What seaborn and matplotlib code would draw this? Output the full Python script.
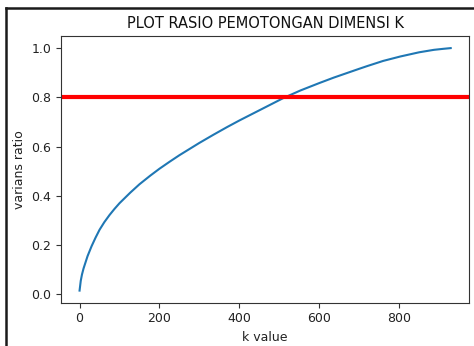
import matplotlib
matplotlib.use("Agg")
import matplotlib.pyplot as plt
from matplotlib.lines import Line2D
import seaborn as sns
import pandas as pd

# Cumulative explained-variance ratio against number of kept components k
k_values = [0, 3, 6, 10, 15, 20, 30, 40, 50, 62, 75, 87, 100, 127, 150, 177, 200,
            225, 250, 285, 300, 335, 369, 400, 452, 510, 553, 600, 636, 700,
            720, 760, 803, 850, 887, 910, 929]
varians_ratio = [0.015, 0.055, 0.08, 0.105, 0.13, 0.155, 0.195, 0.23, 0.262,
                 0.293, 0.322, 0.346, 0.37, 0.413, 0.447, 0.482, 0.51, 0.538,
                 0.565, 0.6, 0.615, 0.648, 0.679, 0.706, 0.749, 0.797, 0.828,
                 0.858, 0.88, 0.916, 0.927, 0.948, 0.966, 0.983, 0.993, 0.997,
                 1.0]
threshold = 0.8

x_ticks = [0, 200, 400, 600, 800]
y_ticks = [0.0, 0.2, 0.4, 0.6, 0.8, 1.0]

df = pd.DataFrame({"k": k_values, "ratio": varians_ratio})

plt.rcParams["font.family"] = ["DejaVu Sans"]
fig = plt.figure(figsize=(4.74, 3.46), dpi=100)
ax = fig.add_axes([0.1287, 0.1251, 0.8613, 0.7709])

sns.lineplot(data=df, x="k", y="ratio", ax=ax, color="#1f77b4", linewidth=1.5)
ax.axhline(threshold, color="red", linewidth=3)

ax.set_xticks(x_ticks)
ax.set_yticks(y_ticks)
ax.tick_params(labelsize=9, colors="#333333", labelcolor="#222222")
ax.set_xlabel("k value", fontsize=9, color="#222222")
ax.set_ylabel("varians ratio", fontsize=9, color="#222222")
ax.set_title("PLOT RASIO PEMOTONGAN DIMENSI K", fontsize=10.5, color="#111111")
for s in ax.spines.values():
    s.set_color("#333333")
    s.set_linewidth(0.8)

# output-cell frame on the top and left edges
fig.add_artist(Line2D([5.5 / 474, 5.5 / 474], [0, 1 - 7.5 / 346],
                      transform=fig.transFigure, color="#1a1a1a", linewidth=1.8))
fig.add_artist(Line2D([5.5 / 474, 1], [1 - 7.5 / 346, 1 - 7.5 / 346],
                      transform=fig.transFigure, color="#1a1a1a", linewidth=1.8))

fig.savefig("out.png", dpi=100)
